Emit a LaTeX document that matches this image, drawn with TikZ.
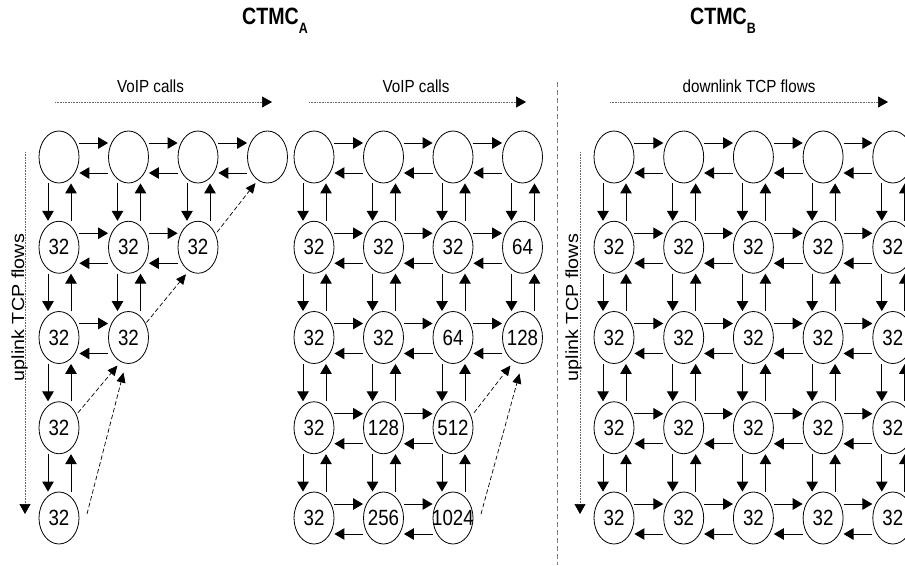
\documentclass[tikz,border=0pt]{standalone}
\usepackage{fontspec}
\setmainfont{Liberation Sans}
\newfontfamily\numfont[FakeStretch=0.85]{Liberation Sans}
\newfontfamily\labfont[FakeStretch=0.87]{Liberation Sans}
\newfontfamily\sidefont[FakeStretch=1.13]{Liberation Sans}
\newfontfamily\headfont[FakeStretch=0.83]{Liberation Sans}
\usetikzlibrary{shapes.geometric,arrows.meta,calc}

\tikzset{
  state/.style={draw, ellipse, minimum width=40pt, minimum height=52pt, inner sep=0pt, line width=0.8pt},
  num/.style={font=\numfont\fontsize{22pt}{22pt}\selectfont, inner sep=0pt},
  tr/.style={line width=1pt, -{Triangle[length=10pt,width=11.5pt]}},
  jump/.style={line width=0.7pt, dash pattern=on 4.5pt off 2.5pt, -{Triangle[length=10pt,width=9pt]}},
  axis/.style={line width=0.7pt, black!60, dash pattern=on 0.7pt off 0.9pt, -{Triangle[length=10pt,width=11pt,color=black]}},
  divider/.style={line width=0.9pt, black!50, dash pattern=on 5pt off 3pt},
  lab/.style={font=\labfont\fontsize{17.5pt}{17.5pt}\selectfont, inner sep=0pt},
  side/.style={font=\sidefont\fontsize{17.5pt}{17.5pt}\selectfont, inner sep=0pt, rotate=90, anchor=base},
  head/.style={font=\headfont\bfseries\fontsize{23.6pt}{23.6pt}\selectfont, inner sep=0pt, anchor=base west}
}

% transitions between horizontal neighbours (#1 left, #2 right)
\newcommand\hpair[2]{%
  \draw[tr] ($(#1.east)+(0,-14)$) -- ($(#2.west)+(0,-14)$);
  \draw[tr] ($(#2.west)+(0,16)$) -- ($(#1.east)+(0,16)$);}
% transitions between vertical neighbours (#1 upper, #2 lower)
\newcommand\vpair[2]{%
  \draw[tr] ($(#1.south)+(-11,0)$) -- ($(#2.north)+(-11,0)$);
  \draw[tr] ($(#2.north)+(12,0)$) -- ($(#1.south)+(12,0)$);}

\begin{document}
\begin{tikzpicture}[x=1pt, y=-1pt]
\clip (0,0) rectangle (905,565);

% ---------------- titles ----------------
\node[head] (tA) at (242,24) {CTMC\raisebox{-9pt}{\fontsize{15pt}{15pt}\selectfont A}};
\node[head] (tB) at (690,24) {CTMC\raisebox{-9pt}{\fontsize{15pt}{15pt}\selectfont B}};

% ---------------- axes ----------------
\node[lab, anchor=base] (xL) at (150.5,92) {VoIP calls};
\coordinate (xL0) at (55,102); \coordinate (xL1) at (272,102);
\draw[axis] (xL0) -- (xL1);
\node[lab, anchor=base] (xM) at (416,92) {VoIP calls};
\coordinate (xM0) at (309,102); \coordinate (xM1) at (526,102);
\draw[axis] (xM0) -- (xM1);
\node[lab, anchor=base] (xR) at (749,92) {downlink TCP flows};
\coordinate (xR0) at (610,102); \coordinate (xR1) at (888,102);
\draw[axis] (xR0) -- (xR1);

\node[side] (yL) at (24,307.5) {uplink TCP flows};
\coordinate (yL0) at (25,152); \coordinate (yL1) at (25,514);
\draw[axis] (yL0) -- (yL1);
\node[side] (yR) at (578,307.5) {uplink TCP flows};
\coordinate (yR0) at (580,152); \coordinate (yR1) at (580,514);
\draw[axis] (yR0) -- (yR1);

\coordinate (d0) at (557,82); \coordinate (d1) at (557,565);
\draw[divider] (d0) -- (d1);

% ---------------- CTMC_A, left grid ----------------
\foreach \c in {1,...,4} \node[state] (L0-\c) at ({59+69.5*(\c-1)},157) {};
\foreach \c in {1,2,3} \node[state, label={[num]center:32}] (L1-\c) at ({59+69.5*(\c-1)},247.25) {};
\foreach \c in {1,2} \node[state, label={[num]center:32}] (L2-\c) at ({59+69.5*(\c-1)},337.5) {};
\node[state, label={[num]center:32}] (L3-1) at (59,427.75) {};
\node[state, label={[num]center:32}] (L4-1) at (59,518) {};

\foreach \c/\d in {1/2,2/3,3/4} \hpair{L0-\c}{L0-\d};
\foreach \c/\d in {1/2,2/3} \hpair{L1-\c}{L1-\d};
\hpair{L2-1}{L2-2};
\foreach \c in {1,2,3} \vpair{L0-\c}{L1-\c};
\foreach \c in {1,2} \vpair{L1-\c}{L2-\c};
\vpair{L2-1}{L3-1};
\vpair{L3-1}{L4-1};

\draw[jump] ($(L1-3.center)+(19,-15)$) -- ($(L0-4.center)+(-12,26)$);
\draw[jump] ($(L2-2.center)+(18,-15)$) -- ($(L1-3.center)+(-12,27)$);
\draw[jump] ($(L3-1.center)+(19,-15)$) -- ($(L2-2.center)+(-11,28)$);
\draw[jump] ($(L4-1.center)+(28,-4)$) -- ($(L2-2.center)+(-5,35)$);

% ---------------- CTMC_A, middle grid ----------------
\foreach \c in {1,...,4} \node[state] (M0-\c) at ({314+69.5*(\c-1)},157) {};
\foreach \c/\v in {1/32,2/32,3/32,4/64} \node[state, label={[num]center:\v}] (M1-\c) at ({314+69.5*(\c-1)},247.25) {};
\foreach \c/\v in {1/32,2/32,3/64,4/128} \node[state, label={[num]center:\v}] (M2-\c) at ({314+69.5*(\c-1)},337.5) {};
\foreach \c/\v in {1/32,2/128,3/512} \node[state, label={[num]center:\v}] (M3-\c) at ({314+69.5*(\c-1)},427.75) {};
\foreach \c/\v in {1/32,2/256,3/1024} \node[state, label={[num]center:\v}] (M4-\c) at ({314+69.5*(\c-1)},518) {};

\foreach \r in {0,1,2} {\foreach \c/\d in {1/2,2/3,3/4} \hpair{M\r-\c}{M\r-\d};}
\foreach \r in {3,4} {\foreach \c/\d in {1/2,2/3} \hpair{M\r-\c}{M\r-\d};}
\foreach \r/\s in {0/1,1/2} {\foreach \c in {1,...,4} \vpair{M\r-\c}{M\s-\c};}
\foreach \r/\s in {2/3,3/4} {\foreach \c in {1,2,3} \vpair{M\r-\c}{M\s-\c};}

\draw[jump] ($(M3-3.center)+(21,-15)$) -- ($(M2-4.center)+(-12,28)$);
\draw[jump] ($(M4-3.center)+(28,-4)$) -- ($(M2-4.center)+(-3,36)$);

% ---------------- CTMC_B, right grid ----------------
\foreach \c in {1,...,5} \node[state] (R0-\c) at ({614+69.7*(\c-1)},157) {};
\foreach \r/\y in {1/247.25,2/337.5,3/427.75,4/518} {
  \foreach \c in {1,...,5} \node[state, label={[num]center:32}] (R\r-\c) at ({614+69.7*(\c-1)},\y) {};
}
\foreach \r in {0,...,4} {\foreach \c/\d in {1/2,2/3,3/4,4/5} \hpair{R\r-\c}{R\r-\d};}
\foreach \r/\s in {0/1,1/2,2/3,3/4} {\foreach \c in {1,...,5} \vpair{R\r-\c}{R\s-\c};}

\end{tikzpicture}
\end{document}
